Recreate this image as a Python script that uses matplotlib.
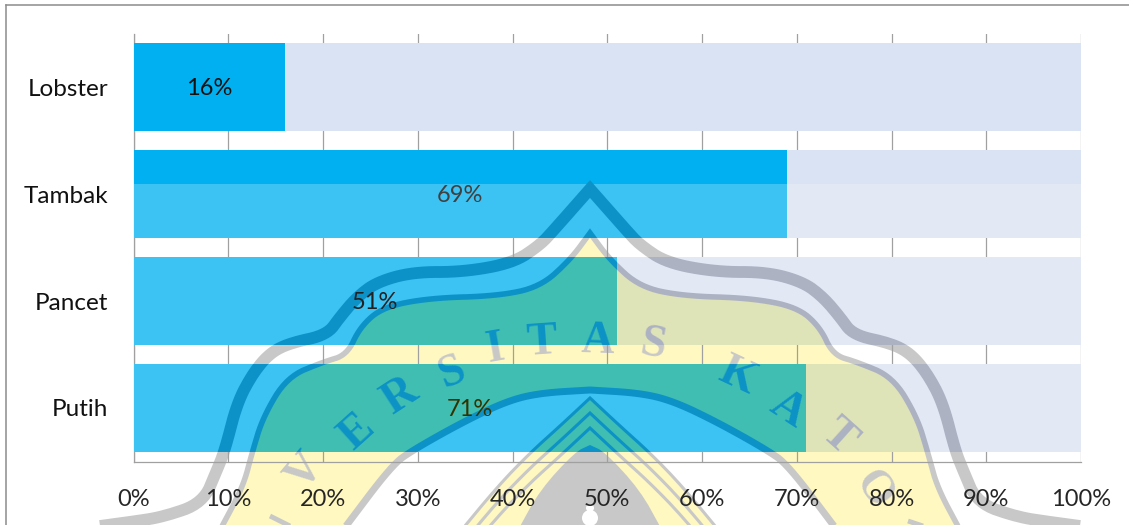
import matplotlib
matplotlib.use('Agg')
import matplotlib.pyplot as plt
import numpy as np
from matplotlib.lines import Line2D
from matplotlib.patches import Circle, PathPatch, Rectangle
from matplotlib.path import Path
from matplotlib.ticker import PercentFormatter
from matplotlib.transforms import Affine2D

plt.rcParams['font.family'] = ['Lato', 'DejaVu Sans']

categories = ['Lobster', 'Tambak', 'Pancet', 'Putih']
percent = [16, 69, 51, 71]
label_colors = ['#111111', '#404040', '#222222', '#333300']

W, H = 1129, 525
AXIS_X = 590

# colours of the seal where it falls on: filled bar, rest of the bar, bare page
YELLOW = {'fill': '#3FBEB1', 'rest': '#DFE3B8', 'page': '#FFF8C0'}
GRAY = {'fill': '#0C92C6', 'rest': '#ADB2C3', 'page': '#C8C8C8'}

# left half of the seal, page pixels (x right, y down)
outer_band = [(590, 189), (553, 231), (540, 245), (513, 263), (463, 272), (413, 272),
              (377, 282), (357, 297), (340, 317), (327, 335), (290, 343), (270, 353),
              (253, 373), (237, 403), (225, 450), (217, 470), (203, 503), (163, 517),
              (130, 522), (85, 528)]
inner_band = [(590, 233), (570, 260), (540, 287), (497, 296), (430, 298), (383, 307),
              (360, 327), (347, 355), (323, 362), (287, 377), (263, 417), (252, 453),
              (243, 487), (220, 530)]
arch = [(590, 390), (540, 393), (507, 401), (463, 422), (413, 450), (392, 465), (343, 530)]
chevron = [(0, 0), (30, 28), (60, 55), (92, 88), (135, 140)]
chevron_tops = [398, 413, 428]
dome = [(590, 445), (575, 452), (540, 490), (518, 530)]
stubs = [[(270, 516), (292, 527)], [(908, 521), (926, 527)]]

letters = [('V', 305, 472, 50), ('E', 357, 433, 42), ('R', 400, 397, 33),
           ('S', 452, 373, 22), ('I', 495, 350, 10), ('T', 542, 343, 4), ('A', 597, 342, -2),
           ('S', 653, 345, -10), ('K', 737, 377, -25), ('A', 787, 410, -33), ('T', 838, 437, -42),
           ('O', 873, 490, -55)]


def smooth(points, rounds=3):
    # corner cutting, both end points stay put
    pts = np.array(points, dtype=float)
    for _ in range(rounds):
        q = 0.75 * pts[:-1] + 0.25 * pts[1:]
        r = 0.25 * pts[:-1] + 0.75 * pts[1:]
        mid = np.empty((2 * len(q), 2))
        mid[0::2] = q
        mid[1::2] = r
        pts = np.vstack([pts[:1], mid, pts[-1:]])
    return pts


def mirrored(pts):
    # whole curve from the left half: bottom left, over the top, bottom right
    right = pts.copy()
    right[:, 0] = 2 * AXIS_X - right[:, 0]
    return np.vstack([pts[::-1], right[1:]])


fig = plt.figure(figsize=(W / 100, H / 100), dpi=100)
ax = fig.add_axes([133.5 / W, (H - 461.5) / H, 947.5 / W, 428 / H])

y = np.arange(len(categories))
rest = [100 - p for p in percent]
filled = ax.barh(y, percent, height=0.827, color='#00B0F0', linewidth=0, zorder=3)
remain = ax.barh(y, rest, left=percent, height=0.827, color='#DAE3F3', linewidth=0, zorder=3)

ax.set_xlim(0, 100)
ax.set_ylim(3.5, -0.5)
ax.set_xticks(np.arange(0, 101, 10))
ax.xaxis.set_major_formatter(PercentFormatter(decimals=0))
ax.set_yticks(y)
ax.set_yticklabels(categories)
ax.tick_params(axis='x', length=0, pad=20, labelsize=17, labelcolor='#262626')
ax.tick_params(axis='y', length=0, pad=18, labelsize=17.5, labelcolor='#111111')
ax.xaxis.grid(True, color='#A0A0A0', linewidth=0.9)
ax.xaxis.set_zorder(2)
ax.yaxis.set_zorder(2)
for side in ['top', 'right']:
    ax.spines[side].set_visible(False)
for side in ['left', 'bottom']:
    ax.spines[side].set_color('#A0A0A0')
    ax.spines[side].set_linewidth(0.9)

for i, p in enumerate(percent):
    ax.text(p / 2, i + 0.015, f'{p}%', ha='center', va='center', fontsize=17,
            color=label_colors[i], zorder=6)

# page pixels to display
page = Affine2D().scale(1, -1).translate(0, H)

# frame of the page, only left and top show
for xs, ys in [([5.5, 5.5], [H, 4.5]), ([5.5, W], [4.5, 4.5])]:
    fig.add_artist(Line2D(xs, ys, color='#8C8C8C', linewidth=1.1, transform=page))

# everything below this line of the page is washed out
for bar in list(filled) + list(remain):
    haze = Rectangle((0, 184), W, H, facecolor='white', alpha=0.24, linewidth=0,
                     transform=page, zorder=3.5)
    ax.add_artist(haze)
    haze.set_clip_path(bar)

outer_pts = mirrored(smooth(outer_band))
inner_pts = mirrored(smooth(inner_band))
arch_pts = mirrored(smooth(arch))
yellow_pts = np.vstack([inner_pts, arch_pts[::-1]])
dome_pts = mirrored(smooth(dome, 2))


def chevron_pts(top):
    half = smooth([(AXIS_X - dx, top + dy) for dx, dy in chevron], 2)
    return mirrored(half)


def add_shape(pts, zorder, clip, face='none', edge='none', lw=0, closed=False):
    codes = None
    verts = pts
    if closed:
        verts = np.vstack([pts, pts[:1]])
        codes = [Path.MOVETO] + [Path.LINETO] * (len(pts) - 1) + [Path.CLOSEPOLY]
    shape = PathPatch(Path(verts, codes), facecolor=face, edgecolor=edge, linewidth=lw,
                      joinstyle='miter', capstyle='butt', transform=page, zorder=zorder)
    ax.add_artist(shape)
    if clip is None:
        shape.set_clip_on(False)
    else:
        shape.set_clip_path(clip)


def draw_seal(where, clip, zorder):
    yellow = YELLOW[where]
    gray = GRAY[where]
    add_shape(yellow_pts, zorder, clip, face=yellow, closed=True)
    add_shape(outer_pts, zorder, clip, edge=gray, lw=8.5)
    add_shape(inner_pts, zorder, clip, edge=gray, lw=4)
    add_shape(arch_pts, zorder, clip, edge=gray, lw=5)
    for top in chevron_tops:
        add_shape(chevron_pts(top), zorder, clip, face=yellow, edge=gray, lw=2.2, closed=True)
    add_shape(dome_pts, zorder, clip, face=gray, closed=True)


def add_letter(ch, x0, y0, rot, color, zorder):
    t = ax.text(x0, y0, ch, transform=page, family='Liberation Serif', fontsize=33, rotation=rot,
                fontweight='bold', rotation_mode='anchor', ha='center', va='center', color=color,
                zorder=zorder)
    return t


# bare page first, gridlines and axis labels sit above it
draw_seal('page', None, 1)
for circle in [Circle((AXIS_X, 518), 8), Circle((AXIS_X, 508), 4)]:
    circle.set(facecolor='white', linewidth=0, transform=page, zorder=1)
    ax.add_artist(circle)
    circle.set_clip_on(False)
for stub in stubs:
    add_shape(np.array(stub, dtype=float), 1, None, edge=GRAY['page'], lw=3.5)
renderer = fig.canvas.get_renderer()
letter_boxes = []
for ch, x0, y0, rot in letters:
    base = add_letter(ch, x0, y0, rot, GRAY['page'], 1)
    letter_boxes.append(base.get_window_extent(renderer))

# same drawing again on each bar, clipped to it
regions = [('fill', bar) for bar in filled] + [('rest', bar) for bar in remain]
for where, bar in regions:
    draw_seal(where, bar, 4)
    box = bar.get_window_extent(renderer)
    for (ch, x0, y0, rot), lbox in zip(letters, letter_boxes):
        if box.overlaps(lbox):
            t = add_letter(ch, x0, y0, rot, GRAY[where], 4)
            t.set_clip_on(True)
            t.set_clip_path(bar)

plt.savefig('out.png', dpi=100)
